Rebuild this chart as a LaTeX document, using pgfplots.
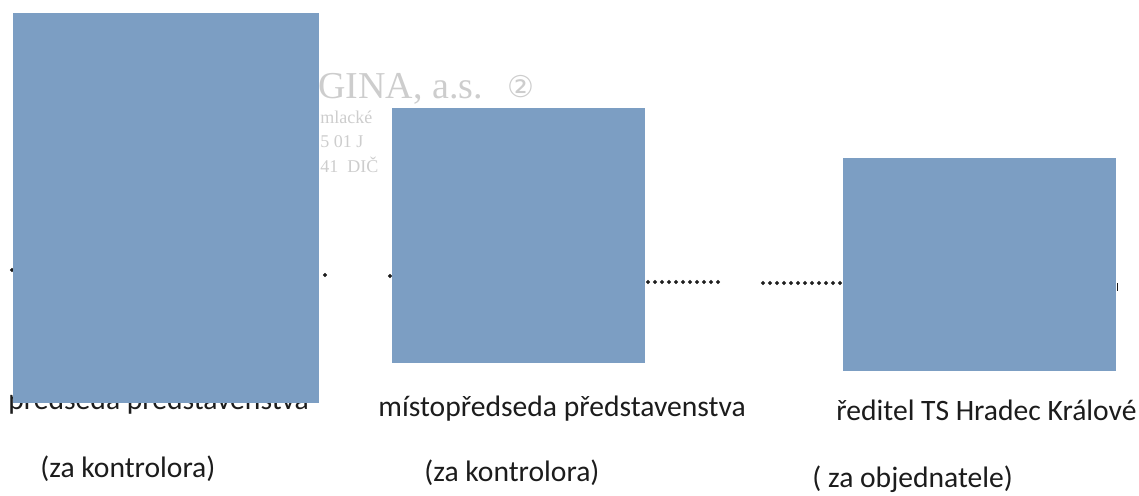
\documentclass[border=0pt]{standalone}
\usepackage{pgfplots}
\pgfplotsset{compat=1.18}
\usepackage{fontspec}
\setmainfont{Carlito}
\newfontfamily\stampfont{Liberation Serif}
\newfontfamily\symfont{DejaVu Sans}
\definecolor{redact}{RGB}{124,158,195}
\definecolor{ink}{RGB}{28,28,28}
\definecolor{stamp}{RGB}{205,205,205}
\pgfplotsset{
  page/.style={
    x=0.5pt, y=0.5pt, xmin=0, xmax=1139, ymin=0, ymax=495,
    y dir=reverse, hide axis, clip=false,
    anchor=south west, at={(0,0)}
  }
}
\begin{document}
\begin{tikzpicture}
% layer 1: text and dots
\begin{axis}[page]
  \addplot[draw=none] coordinates {(0,0) (1139,495)};
  % dotted signature lines
  \addplot[only marks, mark=*, mark size=0.75pt, ink] coordinates {
    (648,282) (655,282) (662,282) (669,282) (676,282) (683,282) (690,282) (697,282) (704,282) (711,282) (718,282)};
  \addplot[only marks, mark=*, mark size=0.75pt, ink] coordinates {
    (763,283) (770,283) (777,283) (784,283) (791,283) (798,283) (805,283) (812,283) (819,283) (826,283) (833,283) (840,283)};
  \addplot[only marks, mark=*, mark size=0.8pt, ink] coordinates {(12,270) (325,275) (390,276)};
  \addplot[only marks, mark=|, mark size=2pt, ink] coordinates {(1117,287)};
  % stamp
  \node[anchor=base west, text=stamp, font=\stampfont\fontsize{19}{22}\selectfont, inner sep=0] at (axis cs:318,98) {GINA, a.s.};
  \node[anchor=base west, text=stamp, font=\symfont\fontsize{15}{18}\selectfont, inner sep=0] at (axis cs:507,97) {②};
  \node[anchor=base west, text=stamp, font=\stampfont\fontsize{9}{10}\selectfont, inner sep=0] at (axis cs:320,123) {mlacké};
  \node[anchor=base west, text=stamp, font=\stampfont\fontsize{9}{10}\selectfont, inner sep=0] at (axis cs:320,147) {5 01 J};
  \node[anchor=base west, text=stamp, font=\stampfont\fontsize{9}{10}\selectfont, inner sep=0] at (axis cs:320,172) {41 \ DIČ};
  % captions
  \node[anchor=base west, text=ink, font=\fontsize{14.8}{18}\selectfont, inner sep=0] at (axis cs:8,409) {předseda představenstva};
  \node[anchor=base west, text=ink, font=\fontsize{14.8}{18}\selectfont, inner sep=0] at (axis cs:378,416) {místopředseda představenstva};
  \node[anchor=base west, text=ink, font=\fontsize{14.8}{18}\selectfont, inner sep=0] at (axis cs:836,420) {ředitel TS Hradec Králové};
  \node[anchor=base west, text=ink, font=\fontsize{14.8}{18}\selectfont, inner sep=0] at (axis cs:40,477) {(za kontrolora)};
  \node[anchor=base west, text=ink, font=\fontsize{14.8}{18}\selectfont, inner sep=0] at (axis cs:424,481) {(za kontrolora)};
  \node[anchor=base west, text=ink, font=\fontsize{14.8}{18}\selectfont, inner sep=0] at (axis cs:812,487) {( za objednatele)};
\end{axis}
% layer 2: redaction boxes on top
\begin{axis}[page]
  \addplot[fill=redact, draw=none] coordinates {(13,13) (319,13) (319,403) (13,403)} -- cycle;
  \addplot[fill=redact, draw=none] coordinates {(392,108) (645,108) (645,363) (392,363)} -- cycle;
  \addplot[fill=redact, draw=none] coordinates {(843,158) (1116,158) (1116,371) (843,371)} -- cycle;
\end{axis}
\pgfresetboundingbox
\useasboundingbox (0,0) rectangle (569.5pt,247.5pt);
\end{tikzpicture}
\end{document}
